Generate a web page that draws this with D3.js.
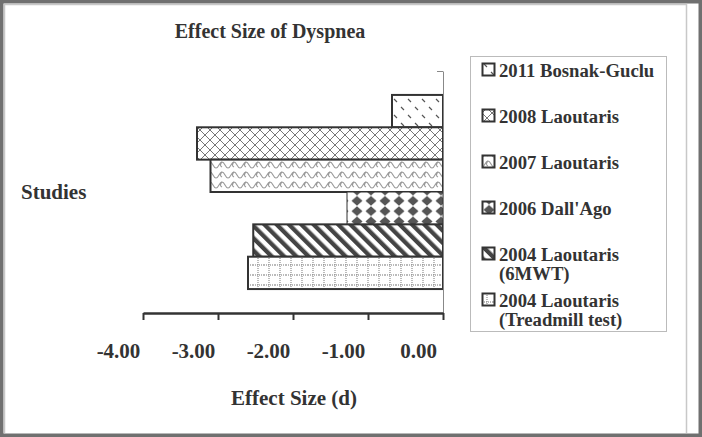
<!DOCTYPE html>
<html>
<head>
<meta charset="utf-8">
<script src="https://cdn.jsdelivr.net/npm/d3@7"></script>
<style>
  body { margin: 0; background: #fff; }
  text { font-family: "Liberation Serif", "Times New Roman", serif; font-weight: bold; fill: #333; }
</style>
</head>
<body>
<svg id="chart" width="702" height="437"></svg>
<script>
// studies, listed top to bottom as drawn
var studies = ["2011 Bosnak-Guclu", "2008 Laoutaris", "2007 Laoutaris", "2006 Dall'Ago",
               "2004 Laoutaris (6MWT)", "2004 Laoutaris (Treadmill test)"];
// effect size (d) for each study
var effects = [-0.68, -3.28, -3.10, -1.28, -2.53, -2.60];
var xTicks = [-4, -3, -2, -1, 0];

var svg = d3.select("#chart");
var defs = svg.append("defs");

// hatch patterns, one per study
function makePatterns(){
    var p;
    // sparse dashes
    p = defs.append("pattern").attr("id", "p0").attr("patternUnits", "userSpaceOnUse")
        .attr("width", 14).attr("height", 16);
    p.append("rect").attr("width", 14).attr("height", 16).attr("fill", "#fff");
    p.append("path").attr("d", "M2,3 L5,6 M9,11 L12,14").attr("stroke", "#555").attr("stroke-width", 1.2);

    // diamond lattice
    p = defs.append("pattern").attr("id", "p1").attr("patternUnits", "userSpaceOnUse")
        .attr("width", 10).attr("height", 10);
    p.append("rect").attr("width", 10).attr("height", 10).attr("fill", "#fff");
    p.append("path").attr("d", "M0,0 L10,10 M10,0 L0,10").attr("stroke", "#777").attr("stroke-width", 1);

    // waves
    p = defs.append("pattern").attr("id", "p2").attr("patternUnits", "userSpaceOnUse")
        .attr("width", 12).attr("height", 10);
    p.append("rect").attr("width", 12).attr("height", 10).attr("fill", "#fff");
    p.append("path").attr("d", "M0,8 C3,8 3,2 6,2 C9,2 9,8 12,8 M6,2 C4,4 4,6 6,7")
        .attr("fill", "none").attr("stroke", "#999").attr("stroke-width", 1.1);

    // dark diamonds
    p = defs.append("pattern").attr("id", "p3").attr("patternUnits", "userSpaceOnUse")
        .attr("width", 14).attr("height", 10.3);
    p.append("rect").attr("width", 14).attr("height", 10.3).attr("fill", "#fff");
    p.append("path").attr("d", "M7,0.3 L12.5,5.15 L7,10 L1.5,5.15 Z").attr("fill", "#555");

    // thick diagonal stripes
    p = defs.append("pattern").attr("id", "p4").attr("patternUnits", "userSpaceOnUse")
        .attr("width", 8.7).attr("height", 8.7).attr("patternTransform", "rotate(-45)");
    p.append("rect").attr("width", 8.7).attr("height", 8.7).attr("fill", "#fff");
    p.append("rect").attr("width", 4.3).attr("height", 8.7).attr("fill", "#444");

    // dotted grid
    p = defs.append("pattern").attr("id", "p5").attr("patternUnits", "userSpaceOnUse")
        .attr("width", 11).attr("height", 10);
    p.append("rect").attr("width", 11).attr("height", 10).attr("fill", "#fff");
    p.append("path").attr("d", "M0,5 L11,5 M5,0 L5,10").attr("stroke", "#777")
        .attr("stroke-width", 1).attr("stroke-dasharray", "1,1");
}
makePatterns();

// outer frame
svg.append("rect").attr("x", 1.75).attr("y", 1.75).attr("width", 698.5).attr("height", 433.5)
    .attr("fill", "none").attr("stroke", "#707070").attr("stroke-width", 3.5);
svg.append("path").attr("d", "M4.5,433 L4.5,4.5 L686.5,4.5 L686.5,433")
    .attr("fill", "none").attr("stroke", "#c8c8c8").attr("stroke-width", 1.5);

// scales
var x = d3.scaleLinear().domain([-4, 0]).range([143, 443]);
var y = d3.scaleBand().domain(studies).range([71, 313]).paddingInner(0).paddingOuter(0.74);

// bars
svg.selectAll(".bar")
    .data(studies)
    .enter().append("rect")
    .attr("class", "bar")
    .attr("x", function(d, i){ return x(effects[i]); })
    .attr("y", function(d){ return y(d); })
    .attr("width", function(d, i){ return x(0) - x(effects[i]); })
    .attr("height", y.bandwidth())
    .attr("fill", function(d, i){ return "url(#p" + i + ")"; })
    .attr("stroke", "#333")
    .attr("stroke-width", function(d, i){ return i == 3 ? 1 : 2; });

// vertical (category) axis
var yAxisScale = d3.scaleLinear().domain([0, 1]).range([313, 71]);
var yAxis = svg.append("g")
    .attr("transform", "translate(" + x(0) + ",0)")
    .call(d3.axisLeft(yAxisScale).tickValues([1]).tickSize(6).tickSizeOuter(0).tickFormat(""));
yAxis.selectAll("path, line").attr("stroke", "#888");

// horizontal axis
var xAxis = svg.append("g")
    .attr("transform", "translate(0,313)")
    .call(d3.axisBottom(x).tickValues(xTicks).tickSize(7).tickSizeOuter(0)
        .tickFormat(function(d){ return d.toFixed(2); }));
xAxis.select(".domain").attr("stroke", "#333").attr("stroke-width", 2.5);
xAxis.selectAll(".tick line").attr("stroke", "#333").attr("stroke-width", 2);
xAxis.selectAll(".tick text")
    .attr("y", 45).attr("dy", 0).attr("dx", -25)
    .style("font-family", "'Liberation Serif', 'Times New Roman', serif")
    .style("font-weight", "bold").style("font-size", "21px").attr("fill", "#333");

// titles
svg.append("text").attr("x", 270).attr("y", 38).attr("text-anchor", "middle")
    .style("font-size", "20px").text("Effect Size of Dyspnea");
svg.append("text").attr("x", 294).attr("y", 405).attr("text-anchor", "middle")
    .style("font-size", "21px").text("Effect Size (d)");
svg.append("text").attr("x", 21).attr("y", 199).style("font-size", "21px").text("Studies");

// legend
svg.append("rect").attr("x", 470.5).attr("y", 56.5).attr("width", 196).attr("height", 275)
    .attr("fill", "#fff").attr("stroke", "#bbb").attr("stroke-width", 1);

var legend = svg.selectAll(".legend")
    .data(studies)
    .enter().append("g")
    .attr("class", "legend")
    .attr("transform", function(d, i){ return "translate(482," + (77 + i * 46) + ")"; });

legend.append("rect")
    .attr("x", 0.5).attr("y", -13.5).attr("width", 12).attr("height", 12)
    .attr("fill", function(d, i){ return "url(#p" + i + ")"; })
    .attr("stroke", "#333").attr("stroke-width", 2);

legend.each(function(d){
    var parts = d.split(" (");
    var g = d3.select(this);
    g.append("text").attr("x", 17).attr("y", 0).style("font-size", "18.7px").text(parts[0]);
    if (parts.length > 1){
        g.append("text").attr("x", 17).attr("y", 19).style("font-size", "18.7px").text("(" + parts[1]);
    }
});
</script>
</body>
</html>
